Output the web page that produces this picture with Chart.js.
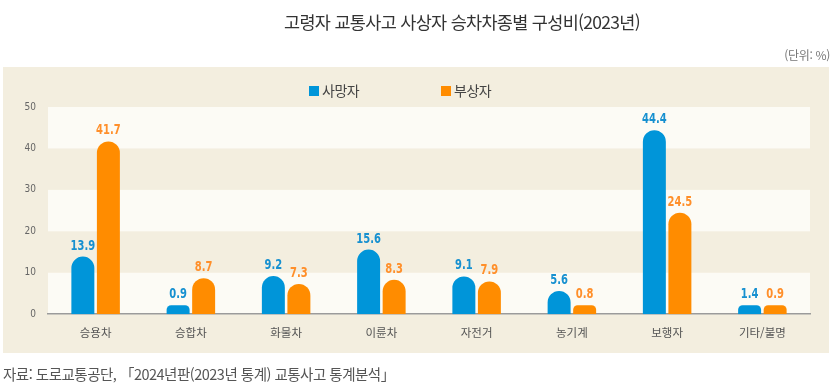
<!DOCTYPE html>
<html lang="ko">
<head>
<meta charset="utf-8">
<script src="https://cdn.jsdelivr.net/npm/chart.js@4.4.1/dist/chart.umd.min.js"></script>
<style>
  html, body { margin: 0; padding: 0; background: #fff; }
  #wrap { position: relative; width: 833px; height: 392px; overflow: hidden; font-family: 'Noto Sans CJK KR', sans-serif; }
  #chart { position: absolute; left: 0; top: 0; }
  .title { position: absolute; top: 10px; left: 462px; transform: translateX(-50%); white-space: nowrap;
           font-size: 17.5px; letter-spacing: -0.7px; color: #333; line-height: 24px; }
  .unit { position: absolute; top: 46px; right: 3px; font-size: 12px; color: #777; letter-spacing: -0.3px; }
  .legend-item { position: absolute; top: 81px; font-size: 14px; color: #444; line-height: 18px; white-space: nowrap; letter-spacing: -0.5px; }
  .legend-item i { display: inline-block; width: 10px; height: 10px; margin-right: 3px; vertical-align: 0px; }
  .source { position: absolute; top: 363px; left: 3px; font-size: 14.5px; color: #555; letter-spacing: -0.5px; white-space: nowrap; }
</style>
</head>
<body>
<div id="wrap">
  <canvas id="chart" width="833" height="392"></canvas>
  <div class="title">고령자 교통사고 사상자 승차차종별 구성비(2023년)</div>
  <div class="unit">(단위: %)</div>
  <div class="legend-item" style="left:309px"><i style="background:#0095d9"></i>사망자</div>
  <div class="legend-item" style="left:441px"><i style="background:#ff8c00"></i>부상자</div>
  <div class="source">자료: 도로교통공단, 「2024년판(2023년 통계) 교통사고 통계분석」</div>
</div>
<script>
  // 데이터
  const categories = ['승용차', '승합차', '화물차', '이륜차', '자전거', '농기계', '보행자', '기타/불명'];
  const deaths = [13.9, 0.9, 9.2, 15.6, 9.1, 5.6, 44.4, 1.4];
  const injuries = [41.7, 8.7, 7.3, 8.3, 7.9, 0.8, 24.5, 0.9];
  const yTicks = [0, 10, 20, 30, 40, 50];

  const blue = '#0095d9';
  const orange = '#ff8c00';

  // 배경 패널 + 줄무늬
  const bandsPlugin = {
    id: 'bands',
    beforeDraw(chart) {
      const ctx = chart.ctx;
      const area = chart.chartArea;
      const y = chart.scales.y;
      ctx.save();
      ctx.fillStyle = '#f3eedf';
      ctx.fillRect(3, 67, 826, 286);
      ctx.fillStyle = '#fcfbf5';
      for (let i = 0; i < yTicks.length - 1; i++) {
        if (i % 2 === 0) {
          const top = y.getPixelForValue(yTicks[i + 1]);
          const bottom = y.getPixelForValue(yTicks[i]);
          ctx.fillRect(area.left, top, area.right - area.left, bottom - top);
        }
      }
      ctx.restore();
    }
  };

  // 막대 위 값 표시 (좁은 글꼴 느낌으로 가로 압축)
  const valueLabels = {
    id: 'valueLabels',
    afterDatasetsDraw(chart) {
      const ctx = chart.ctx;
      ctx.save();
      ctx.font = 'bold 13.5px "DejaVu Sans Condensed"';
      ctx.textAlign = 'center';
      ctx.textBaseline = 'alphabetic';
      chart.data.datasets.forEach((ds, i) => {
        const meta = chart.getDatasetMeta(i);
        ctx.fillStyle = i === 0 ? '#1690d0' : '#ff8f2a';
        meta.data.forEach((bar, j) => {
          ctx.save();
          ctx.translate(bar.x, bar.y - 7);
          ctx.scale(0.82, 1);
          ctx.fillText(ds.data[j].toFixed(1), 0, 0);
          ctx.restore();
        });
      });
      ctx.restore();
    }
  };

  const ctx = document.getElementById('chart').getContext('2d');
  const myChart = new Chart(ctx, {
    type: 'bar',
    data: {
      labels: categories,
      datasets: [{
        label: '사망자',
        data: deaths,
        backgroundColor: blue,
        borderRadius: { topLeft: 12, topRight: 12, bottomLeft: 0, bottomRight: 0 },
        borderSkipped: 'bottom',
        minBarLength: 9,
        categoryPercentage: 0.536,
        barPercentage: 0.9
      }, {
        label: '부상자',
        data: injuries,
        backgroundColor: orange,
        borderRadius: { topLeft: 12, topRight: 12, bottomLeft: 0, bottomRight: 0 },
        borderSkipped: 'bottom',
        minBarLength: 9,
        categoryPercentage: 0.536,
        barPercentage: 0.9
      }]
    },
    options: {
      responsive: false,
      animation: false,
      layout: { padding: { top: 107, right: 23, bottom: 40, left: 0 } },
      plugins: {
        legend: { display: false },
        tooltip: { enabled: false }
      },
      scales: {
        x: {
          grid: { display: false, drawTicks: false },
          border: { display: true, color: '#9b9b9b', width: 1.5 },
          ticks: {
            color: '#555',
            padding: 12,
            font: { family: '"Noto Sans CJK KR"', size: 11.5 }
          }
        },
        y: {
          min: 0,
          max: 50,
          afterFit(scale) { scale.width = 48; },
          afterBuildTicks(scale) { scale.ticks = yTicks.map(v => ({ value: v })); },
          grid: { display: false, drawTicks: false },
          border: { display: false },
          ticks: {
            color: '#666',
            padding: 12,
            font: { family: '"DejaVu Sans Condensed"', size: 10 }
          }
        }
      }
    },
    plugins: [bandsPlugin, valueLabels]
  });
</script>
</body>
</html>
